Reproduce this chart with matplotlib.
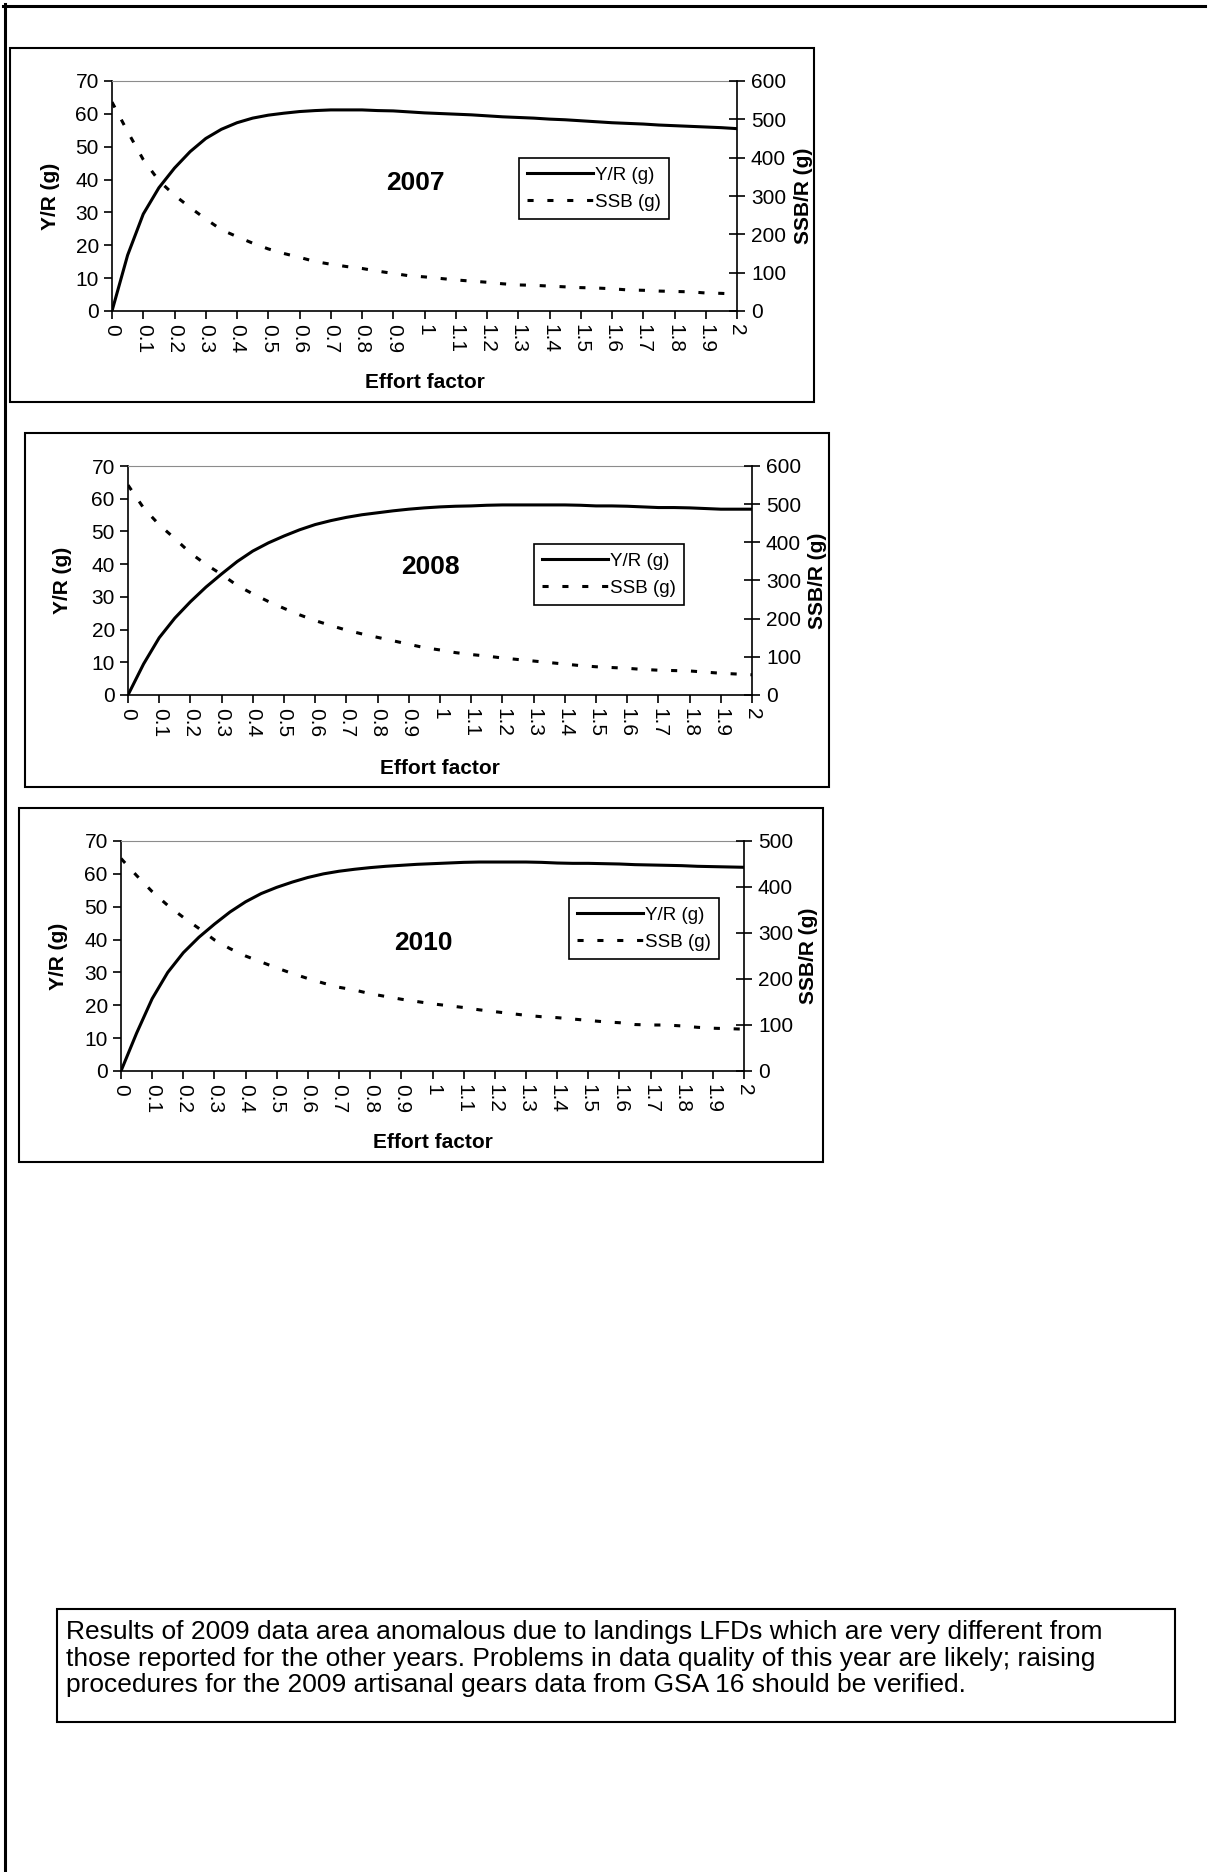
import matplotlib
matplotlib.use("Agg")
import matplotlib.pyplot as plt
from matplotlib.patches import Rectangle
from matplotlib.lines import Line2D

plt.rcParams['font.family'] = ['Liberation Sans', 'DejaVu Sans']

W, H = 1209, 1872  # canvas size in pixels

# effort factor (x) and model outputs per year
effort = [0.0, 0.05, 0.1, 0.15, 0.2, 0.25, 0.3, 0.35, 0.4, 0.45,
          0.5, 0.55, 0.6, 0.65, 0.7, 0.75, 0.8, 0.85, 0.9, 0.95,
          1.0, 1.05, 1.1, 1.15, 1.2, 1.25, 1.3, 1.35, 1.4, 1.45,
          1.5, 1.55, 1.6, 1.65, 1.7, 1.75, 1.8, 1.85, 1.9, 1.95, 2.0]

yr_2007 = [0, 17, 29.5, 37.5, 43.5, 48.5, 52.5, 55.3, 57.3, 58.7,
           59.6, 60.2, 60.7, 61, 61.2, 61.2, 61.2, 61.0, 60.9, 60.6,
           60.3, 60.1, 59.9, 59.7, 59.4, 59.1, 58.9, 58.7, 58.4, 58.2,
           57.9, 57.6, 57.3, 57.1, 56.9, 56.6, 56.4, 56.2, 56.0, 55.8, 55.5]
ssb_2007 = [545, 468, 395, 340, 302, 270, 240, 212, 194, 177,
            162, 150, 140, 129, 122, 116, 111, 104, 98, 92,
            89, 85, 81, 78, 75, 71, 68, 67, 65, 63,
            61, 60, 58, 55, 54, 52, 51, 50, 47, 46, 44]

yr_2008 = [0, 9.5, 17.5, 23.5, 28.5, 33, 37, 40.8, 44, 46.5,
           48.6, 50.5, 52.1, 53.3, 54.3, 55.1, 55.7, 56.3, 56.8, 57.2,
           57.5, 57.7, 57.8, 58.0, 58.1, 58.1, 58.1, 58.1, 58.1, 58.0,
           57.8, 57.8, 57.7, 57.5, 57.3, 57.3, 57.2, 57.0, 56.8, 56.8, 56.8]
ssb_2008 = [550, 490, 446, 410, 372, 342, 316, 287, 265, 245,
            227, 210, 195, 182, 170, 160, 151, 142, 133, 124,
            118, 111, 106, 102, 97, 93, 89, 85, 81, 77,
            74, 72, 70, 67, 65, 64, 63, 60, 57, 55, 53]

yr_2010 = [0, 11.5, 22, 30, 36, 40.7, 44.7, 48.4, 51.5, 54,
           55.9, 57.5, 58.9, 60, 60.8, 61.4, 61.9, 62.3, 62.6, 62.9,
           63.1, 63.3, 63.5, 63.6, 63.6, 63.6, 63.6, 63.5, 63.3, 63.2,
           63.2, 63.1, 63.0, 62.8, 62.7, 62.6, 62.5, 62.3, 62.2, 62.1, 62.0]
ssb_2010 = [462, 425, 390, 360, 334, 310, 285, 266, 250, 237,
            224, 212, 201, 191, 182, 176, 168, 162, 156, 151,
            146, 142, 138, 133, 129, 125, 121, 118, 116, 113,
            110, 107, 105, 101, 100, 100, 98, 95, 93, 92, 91]

effort_ticks = [0, 0.1, 0.2, 0.3, 0.4, 0.5, 0.6, 0.7, 0.8, 0.9, 1.0,
                1.1, 1.2, 1.3, 1.4, 1.5, 1.6, 1.7, 1.8, 1.9, 2.0]
effort_labels = ["0", "0.1", "0.2", "0.3", "0.4", "0.5", "0.6", "0.7", "0.8", "0.9", "1",
                 "1.1", "1.2", "1.3", "1.4", "1.5", "1.6", "1.7", "1.8", "1.9", "2"]

note = ("Results of 2009 data area anomalous due to landings LFDs which are very different from\n"
        "those reported for the other years. Problems in data quality of this year are likely; raising\n"
        "procedures for the 2009 artisanal gears data from GSA 16 should be verified.")


def fx(px):
    return px / W


def fy(py):
    return 1 - py / H


def frame(fig, l, t, r, b, lw=1.5):
    fig.patches.append(Rectangle((fx(l), fy(b)), fx(r) - fx(l), fy(t) - fy(b),
                                 transform=fig.transFigure, fill=False,
                                 edgecolor='black', linewidth=lw))


def draw_panel(fig, year, yr, ssb, ssb_top, ax_px, box_px, title_px, leg_px, ylab_x, ssblab_x, xlab_y):
    frame(fig, *box_px)
    l, t, r, b = ax_px
    ax = fig.add_axes([fx(l), fy(b), fx(r) - fx(l), fy(t) - fy(b)])
    ax.plot(effort, yr, color='black', lw=2.2, solid_joinstyle='round')
    ax.set_xlim(0, 2)
    ax.set_ylim(0, 70)
    ax.set_yticks(range(0, 71, 10))
    ax.set_xticks(effort_ticks)
    ax.set_xticklabels(effort_labels, rotation=-90, va='top', ha='center')
    ax.tick_params(axis='both', labelsize=15, length=6, width=1.2, color='black')
    ax.tick_params(axis='x', pad=3)
    ax.spines['top'].set_color('#8c8c8c')
    ax.spines['right'].set_visible(False)
    for s in ('left', 'bottom'):
        ax.spines[s].set_linewidth(1.2)

    ax2 = ax.twinx()
    ax2.plot(effort, ssb, color='black', lw=2.2, dashes=(2, 4.5), dash_capstyle='butt')
    ax2.set_ylim(0, ssb_top)
    ax2.set_yticks(range(0, ssb_top + 1, 100))
    ax2.tick_params(axis='y', direction='inout', length=12, width=1.2, labelsize=15, pad=4)
    for s in ('left', 'bottom', 'top'):
        ax2.spines[s].set_visible(False)
    ax2.spines['right'].set_linewidth(1.2)

    ymid = fy((t + b) / 2)
    fig.text(fx(ylab_x), ymid, "Y/R (g)", rotation=90, ha='center', va='center',
             fontsize=15, fontweight='bold')
    fig.text(fx(ssblab_x), ymid, "SSB/R (g)", rotation=90, ha='center', va='center',
             fontsize=15, fontweight='bold')
    fig.text(fx((l + r) / 2), fy(xlab_y), "Effort factor", ha='center', va='center',
             fontsize=15, fontweight='bold')
    fig.text(fx(title_px[0]), fy(title_px[1]), year, ha='center', va='center',
             fontsize=19, fontweight='bold')

    handles = [Line2D([], [], color='black', lw=2.2),
               Line2D([], [], color='black', lw=2.2, dashes=(2, 4.5), dash_capstyle='butt')]
    leg = fig.legend(handles, ["Y/R (g)", "SSB (g)"], loc='upper left',
                     bbox_to_anchor=(fx(leg_px[0]), fy(leg_px[1])), bbox_transform=fig.transFigure,
                     fontsize=13.5, frameon=True, fancybox=False, edgecolor='black', framealpha=1,
                     handlelength=3.5, handletextpad=0.1, borderpad=0.45, labelspacing=0.55,
                     borderaxespad=0)
    leg.get_frame().set_linewidth(1.2)


fig = plt.figure(figsize=(W / 100, H / 100), dpi=100)

# page border (left and top edges)
fig.add_artist(Line2D([fx(4.5), fx(4.5)], [fy(4), 0], transform=fig.transFigure, color='black', lw=2.2))
fig.add_artist(Line2D([fx(3), fx(1205)], [fy(5.5), fy(5.5)], transform=fig.transFigure, color='black', lw=2.2))

draw_panel(fig, "2007", yr_2007, ssb_2007, 600,
           (112, 81, 737, 311), (10, 48, 814, 402), (415, 183), (519, 158), 50, 803, 383)
draw_panel(fig, "2008", yr_2008, ssb_2008, 600,
           (128, 466, 752, 695), (25, 433, 829, 787), (430, 567), (534, 544), 63, 817, 768)
draw_panel(fig, "2010", yr_2010, ssb_2010, 500,
           (121, 841, 744, 1071), (19, 808, 823, 1162), (423, 943), (569, 898), 58, 809, 1143)

# note box
frame(fig, 57, 1609, 1175, 1722)
fig.text(fx(66), fy(1620), note, ha='left', va='top', fontsize=19, linespacing=1.14)

fig.savefig("out.png", dpi=100)
